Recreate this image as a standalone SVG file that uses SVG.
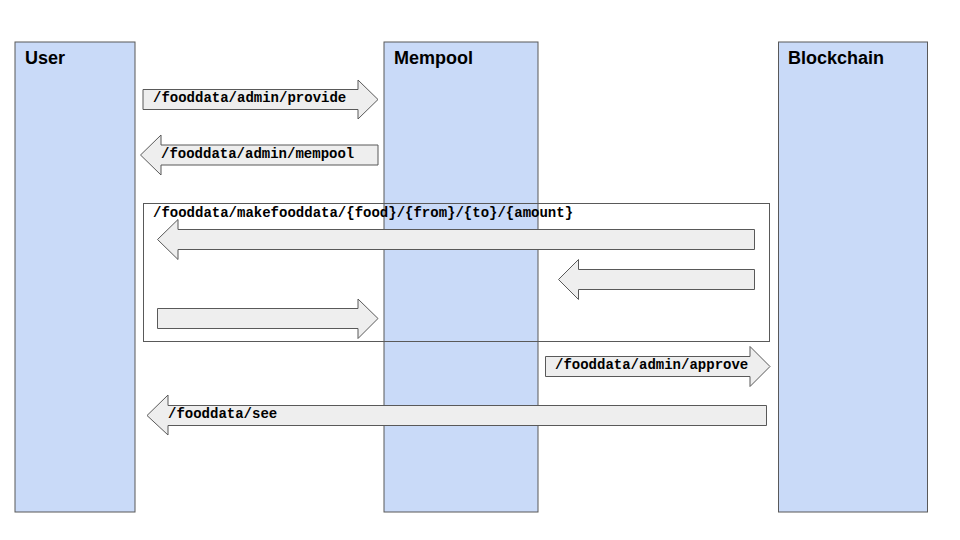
<svg xmlns="http://www.w3.org/2000/svg" width="960" height="540" viewBox="0 0 960 540">
<style>
.col{fill:#c9daf8;stroke:#595959;stroke-width:1}
.hdr{font-family:"Liberation Sans",Arial,sans-serif;font-weight:bold;font-size:18px;fill:#000}
.arr{fill:#eeeeee;stroke:#595959;stroke-width:1;stroke-linejoin:miter}
.lbl{font-family:"Liberation Mono","Courier New",monospace;font-weight:bold;font-size:14px;fill:#000}
.frame{fill:none;stroke:#595959;stroke-width:1}
</style>
<rect width="960" height="540" fill="#ffffff"/>
<g id="user"><rect class="col" x="15" y="42" width="120" height="470"/><text class="hdr" x="25" y="64">User</text></g>
<g id="mempool"><rect class="col" x="384" y="42" width="154" height="470"/><text class="hdr" x="394" y="64">Mempool</text></g>
<g id="blockchain"><rect class="col" x="778.5" y="42" width="149" height="470"/><text class="hdr" x="788" y="64">Blockchain</text></g>
<g id="frame-makefooddata"><rect class="frame" x="143.5" y="203.5" width="626" height="138"/></g>
<g id="connectors">
<g id="provide"><polygon class="arr" points="143,89.5 358,89.5 358,80 378,99.5 358,119 358,109.5 143,109.5"/><text class="lbl" x="153" y="102">/fooddata/admin/provide</text></g>
<g id="mempool-get"><polygon class="arr" points="378,145 161,145 161,135 140.5,155 161,175 161,165 378,165"/><text class="lbl" x="161" y="158">/fooddata/admin/mempool</text></g>
<text class="lbl" x="153" y="217">/fooddata/makefooddata/{food}/{from}/{to}/{amount}</text>
<polygon class="arr" points="754.5,229.5 178,229.5 178,219.5 157.5,239.5 178,259.5 178,249.5 754.5,249.5"/>
<polygon class="arr" points="754.5,269.5 578.5,269.5 578.5,259.5 558.5,279.5 578.5,299.5 578.5,289.5 754.5,289.5"/>
<polygon class="arr" points="157.5,308.5 358,308.5 358,299 378,318.5 358,338.5 358,328.5 157.5,328.5"/>
<g id="approve"><polygon class="arr" points="545.5,356.5 750,356.5 750,346.5 770,366.5 750,386.5 750,376.5 545.5,376.5"/><text class="lbl" x="555" y="369">/fooddata/admin/approve</text></g>
<g id="see"><polygon class="arr" points="766.5,405.5 168,405.5 168,395 147,415.5 168,435 168,425.5 766.5,425.5"/><text class="lbl" x="168" y="418">/fooddata/see</text></g>
</g>
</svg>
